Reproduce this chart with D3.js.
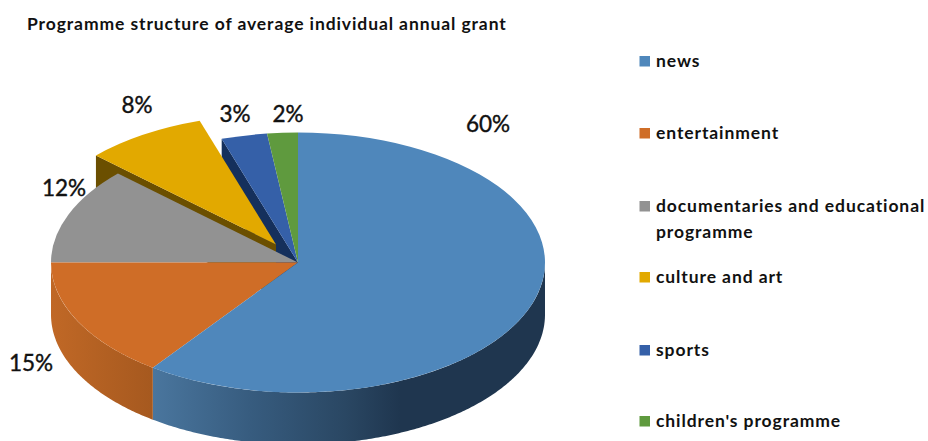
<!DOCTYPE html>
<html>
<head>
<meta charset="utf-8">
<style>
html, body { margin: 0; padding: 0; background: #fff; }
svg { display: block; }
text { font-family: Lato, "Open Sans", sans-serif; fill: #111; }
</style>
<script src="https://cdn.jsdelivr.net/npm/d3@7"></script>
</head>
<body>
<script>
// Programme shares, in percent, clockwise from twelve o'clock
const categories = ["news", "entertainment", "documentaries and educational programme", "culture and art", "sports", "children's programme"];
const shares = [60, 15, 12, 8, 3, 2];
const topColors = ["#4f87bb", "#cf6d27", "#929292", "#e2a900", "#3560a8", "#5f9a3e"];
const title = "Programme structure of average individual annual grant";

const width = 928, height = 441;
const cx = 298, cy = 262.5, rx = 247, ry = 130, depth = 52;
const explodedIndex = 3;
const explodeShift = [-22, -18];

const svg = d3.select("body").append("svg").attr("width", width).attr("height", height);
const defs = svg.append("defs");

const slices = d3.pie().sort(null).value(d => d)(shares);
const arc = d3.arc().innerRadius(0).outerRadius(rx);

// Angle (clockwise from the top) projected onto the tilted disc
const px = a => rx * Math.sin(a);
const py = a => -ry * Math.cos(a);
const shiftOf = i => i === explodedIndex ? explodeShift : [0, 0];

function wallGradient(id, stops) {
  const g = defs.append("linearGradient").attr("id", id)
    .attr("gradientUnits", "userSpaceOnUse")
    .attr("x1", 0).attr("x2", width).attr("y1", 0).attr("y2", 0);
  stops.forEach(s => g.append("stop").attr("offset", s[0] / width).attr("stop-color", s[1]));
}
wallGradient("wall-news", [[152, "#4a769e"], [250, "#375c7f"], [345, "#2a4763"], [400, "#1f364f"], [545, "#1f364f"]]);
wallGradient("wall-entertainment", [[51, "#c06826"], [152, "#a6591f"]]);

// Curved outer wall between two angles
function outerWall(a0, a1) {
  const angles = d3.range(a0, a1, 0.01).concat([a1]);
  const rim = angles.map(a => [cx + px(a), cy + py(a)]);
  const floor = rim.map(p => [p[0], p[1] + depth]).reverse();
  return d3.line()(rim.concat(floor)) + "Z";
}

// Flat cut face along one radius of a slice
function radialWall(a, shift) {
  const hub = [cx + shift[0], cy + shift[1]];
  const edge = [hub[0] + px(a), hub[1] + py(a)];
  return d3.line()([hub, edge, [edge[0], edge[1] + depth], [hub[0], hub[1] + depth]]) + "Z";
}

function topFace(i) {
  const s = shiftOf(i);
  svg.append("path")
    .attr("transform", `translate(${cx + s[0]},${cy + s[1]}) scale(1,${ry / rx})`)
    .attr("d", arc(slices[i]))
    .attr("fill", topColors[i]);
}

// Back to front: outer walls, the cut faces exposed by the gap, then the discs
svg.append("path").attr("d", outerWall(Math.PI / 2, slices[0].endAngle)).attr("fill", "url(#wall-news)");
svg.append("path").attr("d", outerWall(slices[1].startAngle, slices[1].endAngle)).attr("fill", "url(#wall-entertainment)");
svg.append("path").attr("d", radialWall(slices[4].startAngle, [0, 0])).attr("fill", "#15305c");
svg.append("path").attr("d", radialWall(slices[explodedIndex].startAngle, explodeShift)).attr("fill", "#6b4f00");
topFace(2);
topFace(1);
topFace(0);
topFace(4);
topFace(5);
topFace(explodedIndex);

// Percentage labels
const labelCentres = [[488, 132], [31, 371], [64, 196], [137, 113], [235, 122], [288, 122]];
svg.append("g").selectAll("text").data(shares).join("text")
  .attr("x", (d, i) => labelCentres[i][0])
  .attr("y", (d, i) => labelCentres[i][1])
  .attr("text-anchor", "middle")
  .attr("font-size", 22.5)
  .attr("stroke", "#111").attr("stroke-width", 0.4)
  .text(d => d + "%");

// Title
svg.append("text").attr("x", 27).attr("y", 30)
  .attr("font-size", 17.5).attr("font-weight", 700).attr("letter-spacing", 0.9)
  .text(title);

// Legend, with the long entry wrapped onto two lines
const legendRows = [61, 133, 206, 277, 350, 421];
const legendLines = categories.map(c => c.startsWith("documentaries") ? ["documentaries and educational", "programme"] : [c]);
const legend = svg.append("g").selectAll("g").data(categories).join("g");
legend.append("rect")
  .attr("x", 639.5).attr("y", (d, i) => legendRows[i] - 5)
  .attr("width", 10.5).attr("height", 10.5)
  .attr("fill", (d, i) => topColors[i]);
legend.append("text")
  .attr("font-size", 17.5).attr("font-weight", 700).attr("letter-spacing", 0.9)
  .each(function (d, i) {
    d3.select(this).selectAll("tspan").data(legendLines[i]).join("tspan")
      .attr("x", 656)
      .attr("y", (t, j) => legendRows[i] + 6 + j * 26)
      .text(t => t);
  });
</script>
</body>
</html>
